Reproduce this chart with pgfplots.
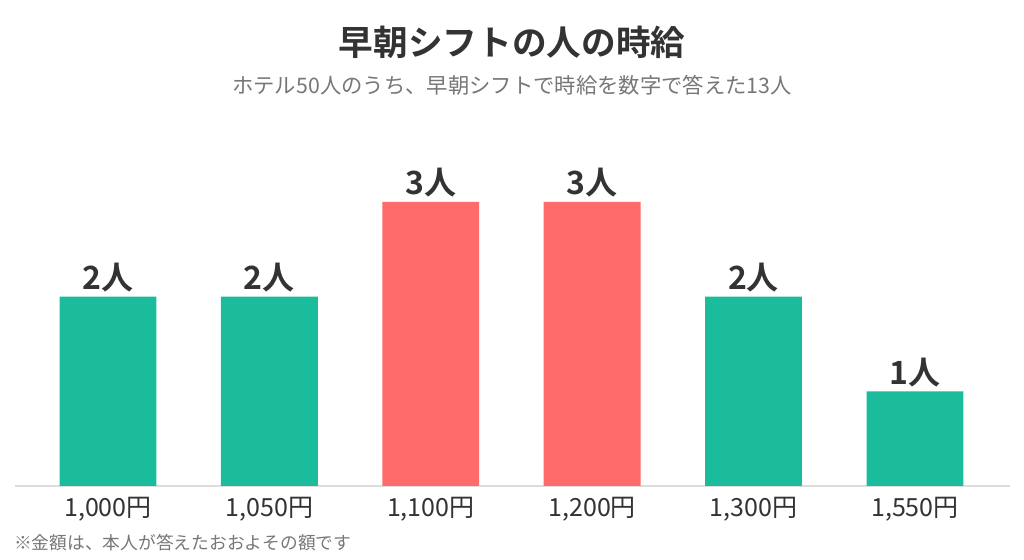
\documentclass[border=0pt]{standalone}
\usepackage{pgfplots}
\pgfplotsset{compat=1.18}
\usepackage{fontspec}
\setmainfont{Noto Sans CJK JP}[BoldFont={Noto Sans CJK JP Bold}]
\definecolor{barteal}{HTML}{1ABC9C}
\definecolor{barred}{HTML}{FF6B6B}
\definecolor{ink}{HTML}{333333}
\definecolor{subgray}{HTML}{777777}
\definecolor{axisgray}{HTML}{DDDDDD}

\begin{document}
\begin{tikzpicture}
\path[use as bounding box, fill=white] (0,0) rectangle (768pt,420pt);
% title block
\node[font=\bfseries\fontsize{26}{28}\selectfont, text=ink] at (384pt,388.5pt) {早朝シフトの人の時給};
\node[font=\fontsize{16}{18}\selectfont, text=subgray] at (384pt,356.25pt) {ホテル50人のうち、早朝シフトで時給を数字で答えた13人};
\node[font=\fontsize{13.3}{15}\selectfont, text=subgray, anchor=west, inner sep=0pt] at (10.5pt,12.75pt) {※金額は、本人が答えたおおよその額です};
\begin{axis}[
    at={(11.25pt,55.5pt)}, anchor=south west,
    scale only axis, width=746.25pt, height=284pt,
    xmin=-0.576, xmax=5.589, ymin=0, ymax=4,
    axis x line=bottom, axis y line=none,
    x axis line style={draw=axisgray, line width=1.5pt, -},
    xtick={0,...,5},
    xticklabels={{1,000円},{1,050円},{1,100円},{1,200円},{1,300円},{1,550円}},
    major tick length=0pt, tick style={draw=none},
    xticklabel style={font=\fontsize{18.75}{20}\selectfont, text=ink, yshift=-5pt},
    ytick=\empty,
    ybar, bar width=0.6, bar shift=0pt,
    nodes near coords={\pgfmathprintnumber{\pgfplotspointmeta}人},
    nodes near coords style={font=\bfseries\fontsize{24}{26}\selectfont, text=ink},
    /pgf/number format/assume math mode=true,
    clip=false,
]
\addplot[fill=barteal, draw=none] coordinates {(0,2) (1,2) (4,2) (5,1)};
\addplot[fill=barred, draw=none] coordinates {(2,3) (3,3)};
\end{axis}
\end{tikzpicture}
\end{document}
